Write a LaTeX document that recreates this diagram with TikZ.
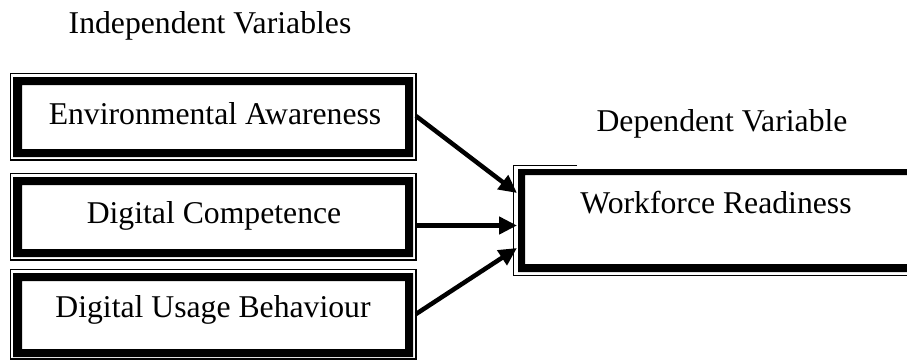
\documentclass[tikz,border=0pt]{standalone}
\usepackage{fontspec}
\setmainfont{Liberation Serif}
\usetikzlibrary{arrows.meta}
\begin{document}
\begin{tikzpicture}[x=1pt,y=-1pt,
  lbl/.style={anchor=base, inner sep=0pt, font=\fontsize{31.7}{38}\selectfont},
  outerline/.style={line width=1.1pt},
  band/.style={fill=black, even odd rule},
  conn/.style={line width=4.5pt, -{Triangle[length=18pt,width=17pt]}}
]
\useasboundingbox (0,0) rectangle (907,359);
\begin{scope}
\clip (0,0) rectangle (907,359);
% Box 1
\draw[outerline] (10.5,73.5) rectangle (416,160);
\fill[band] (13,77) rectangle (413,157) (22,85) rectangle (405,149);
% Box 2
\draw[outerline] (10.5,173.5) rectangle (416,260);
\fill[band] (13,177) rectangle (413,257) (22,185) rectangle (405,249);
% Box 3
\draw[outerline] (10.5,269.5) rectangle (416,359);
\fill[band] (13,273) rectangle (413,357) (22,281) rectangle (405,349);
% Workforce box
\draw[outerline] (577,165.5) -- (513.5,165.5) -- (513.5,275.5) -- (912,275.5);
\fill[band] (518,169) rectangle (912,272) (525,175) rectangle (912,264);
\end{scope}
% Texts
\node[lbl] (iv) at (210,33) {Independent Variables};
\node[lbl] (dv) at (722,131) {Dependent Variable};
\node[lbl] (env) at (215,124) {Environmental Awareness};
\node[lbl] (dc) at (214,223) {Digital Competence};
\node[lbl] (dub) at (213,317) {Digital Usage Behaviour};
\node[lbl] (wr) at (716,213) {Workforce Readiness};
% Connector ends
\coordinate (s1) at (416,116);
\coordinate (s2) at (416,225.5);
\coordinate (s3) at (416,314);
\coordinate (e1) at (517,193);
\coordinate (e2) at (517,225.5);
\coordinate (e3) at (517,248);
\draw[conn] (s1) -- (e1);
\draw[conn] (s2) -- (e2);
\draw[conn] (s3) -- (e3);
\end{tikzpicture}
\end{document}
